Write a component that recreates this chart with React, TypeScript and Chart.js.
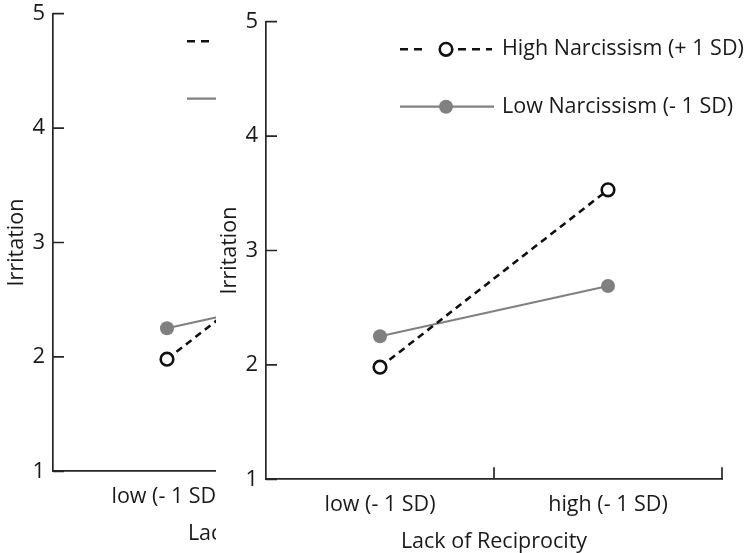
import React, { useEffect, useRef } from "react";
import { Chart, registerables } from "chart.js";
Chart.register(...registerables);

const categories = ["low (- 1 SD)", "high (- 1 SD)"];
const highNarcissism = [1.98, 3.53];
const lowNarcissism = [2.25, 2.69];
const seriesLabels = ["High Narcissism (+ 1 SD)", "Low Narcissism (- 1 SD)"];
const yTickValues = [1, 2, 3, 4, 5];
const xTitle = "Lack of Reciprocity";
const yTitle = "Irritation";

const FONT = "'Open Sans', sans-serif";
const W = 530;
const H = 553;
const AXIS = "#262626";
const TEXT = "#1a1a1a";

const inwardTicks = {
  id: "inwardTicks",
  afterDraw(chart: any) {
    const { ctx, chartArea, scales } = chart;
    const x = scales.x;
    const y = scales.y;
    ctx.save();
    ctx.strokeStyle = AXIS;
    ctx.lineWidth = 1.7;
    ctx.beginPath();
    y.ticks.forEach((t: any) => {
      const py = y.getPixelForValue(t.value);
      ctx.moveTo(chartArea.left, py);
      ctx.lineTo(chartArea.left + 11, py);
    });
    for (let i = 1; i <= categories.length; i++) {
      const px = x.getPixelForValue(i - 0.5);
      ctx.moveTo(px, chartArea.bottom);
      ctx.lineTo(px, chartArea.bottom - 12);
    }
    ctx.stroke();
    ctx.restore();
  },
};

const lineLegend = {
  id: "lineLegend",
  afterDraw(chart: any) {
    const { ctx } = chart;
    const rows = [49.3, 106.7];
    const x0 = 184;
    const x1 = 276;
    const xc = 230;
    chart.data.datasets.forEach((ds: any, i: number) => {
      const yy = rows[i];
      ctx.save();
      ctx.strokeStyle = ds.borderColor;
      ctx.lineWidth = ds.borderWidth;
      if (ds.borderDash) {
        ctx.setLineDash([8, 6]);
        ctx.beginPath();
        ctx.moveTo(x0, yy);
        ctx.lineTo(x0 + 22, yy);
        ctx.moveTo(xc + 12, yy);
        ctx.lineTo(x1, yy);
        ctx.stroke();
      } else {
        ctx.beginPath();
        ctx.moveTo(x0, yy);
        ctx.lineTo(x1 + 2, yy);
        ctx.stroke();
      }
      ctx.setLineDash([]);
      ctx.beginPath();
      ctx.arc(xc, yy, ds.pointRadius, 0, Math.PI * 2);
      ctx.fillStyle = ds.pointBackgroundColor;
      ctx.fill();
      if (ds.pointBorderWidth > 0) {
        ctx.lineWidth = ds.pointBorderWidth;
        ctx.strokeStyle = ds.pointBorderColor;
        ctx.stroke();
      }
      ctx.fillStyle = TEXT;
      ctx.font = `21.5px ${FONT}`;
      ctx.textBaseline = "middle";
      ctx.textAlign = "left";
      ctx.fillText(ds.label, 286, yy);
      ctx.restore();
    });
  },
};

function makeConfig(): any {
  return {
    type: "line",
    data: {
      labels: categories,
      datasets: [
        {
          label: seriesLabels[0],
          data: highNarcissism,
          borderColor: "#111111",
          borderWidth: 2.6,
          borderDash: [7, 5],
          pointRadius: 6.3,
          pointBackgroundColor: "#ffffff",
          pointBorderColor: "#111111",
          pointBorderWidth: 2.6,
          tension: 0,
        },
        {
          label: seriesLabels[1],
          data: lowNarcissism,
          borderColor: "#808080",
          borderWidth: 2.2,
          pointRadius: 7,
          pointBackgroundColor: "#808080",
          pointBorderColor: "#808080",
          pointBorderWidth: 0,
          tension: 0,
        },
      ],
    },
    options: {
      responsive: false,
      animation: false,
      devicePixelRatio: 1,
      events: [],
      layout: { padding: { top: 21.7, right: 24, left: 0, bottom: 0 } },
      plugins: { legend: { display: false }, tooltip: { enabled: false } },
      scales: {
        x: {
          type: "category",
          offset: true,
          grid: { display: false, drawTicks: false },
          border: { display: true, color: AXIS, width: 1.7 },
          ticks: {
            font: { family: FONT, size: 21.5 },
            color: TEXT,
            padding: 13,
            maxRotation: 0,
            autoSkip: false,
          },
          title: {
            display: true,
            text: xTitle,
            color: TEXT,
            font: { family: FONT, size: 21.5, lineHeight: 1 },
            padding: 0,
          },
          afterFit(s: any) {
            s.height = H - 479.3;
          },
        },
        y: {
          min: 1,
          max: 5,
          grid: { display: false, drawTicks: false },
          border: { display: true, color: AXIS, width: 1.7 },
          afterBuildTicks(s: any) {
            s.ticks = yTickValues.map((v) => ({ value: v }));
          },
          ticks: {
            font: { family: FONT, size: 22 },
            color: TEXT,
            padding: 8,
          },
          title: {
            display: true,
            text: yTitle,
            color: TEXT,
            font: { family: FONT, size: 21.5 },
            padding: { top: 1.2, bottom: 0 },
          },
          afterFit(s: any) {
            s.width = 50;
          },
        },
      },
    },
    plugins: [inwardTicks, lineLegend],
  };
}

export default function App() {
  const backRef = useRef<HTMLCanvasElement | null>(null);
  const frontRef = useRef<HTMLCanvasElement | null>(null);

  useEffect(() => {
    let charts: Chart[] = [];
    let cancelled = false;
    const build = () => {
      if (cancelled) return;
      if (backRef.current) charts.push(new Chart(backRef.current, makeConfig()));
      if (frontRef.current) charts.push(new Chart(frontRef.current, makeConfig()));
    };
    const fonts: any = (document as any).fonts;
    if (fonts && fonts.load) {
      Promise.all([fonts.load(`21px "Open Sans"`), fonts.load(`22px "Open Sans"`)])
        .catch(() => null)
        .then(build);
    } else {
      build();
    }
    return () => {
      cancelled = true;
      charts.forEach((c) => c.destroy());
      charts = [];
    };
  }, []);

  return (
    <div
      style={{
        position: "fixed",
        left: 0,
        top: 0,
        width: 746,
        height: 553,
        overflow: "hidden",
        background: "#ffffff",
      }}
    >
      <canvas
        ref={backRef}
        width={W}
        height={H}
        style={{ position: "absolute", left: 3, top: -8, width: W, height: H }}
      />
      <canvas
        ref={frontRef}
        width={W}
        height={H}
        style={{
          position: "absolute",
          left: 216,
          top: 0,
          width: W,
          height: H,
          background: "#ffffff",
        }}
      />
    </div>
  );
}
